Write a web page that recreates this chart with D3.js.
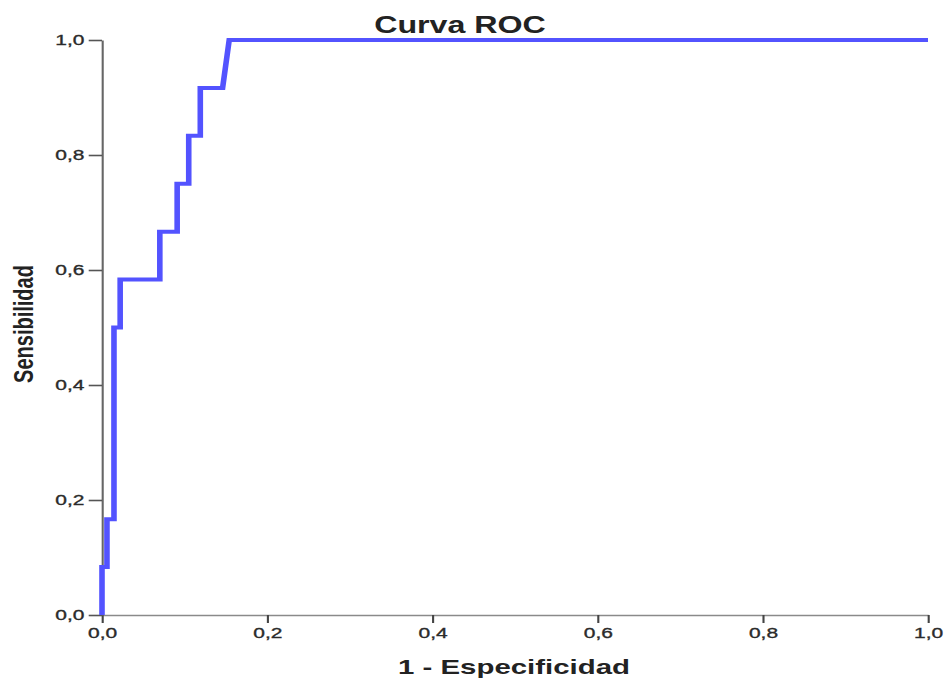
<!DOCTYPE html>
<html>
<head>
<meta charset="utf-8">
<script src="https://cdn.jsdelivr.net/npm/d3@7"></script>
<style>
  html, body { margin: 0; padding: 0; background: #fff; }
  svg { display: block; }
  text { font-family: "Liberation Sans", Arial, sans-serif; }
</style>
</head>
<body>
<script>
// ROC curve: false positive rate (1 - specificity) vs sensitivity
const fpr = [0, 0, 0.006, 0.006, 0.0145, 0.0145, 0.022, 0.022, 0.070, 0.070, 0.091, 0.091, 0.105, 0.105, 0.119, 0.119, 0.146, 0.154, 1.0];
const tpr = [0, 0.0833, 0.0833, 0.1667, 0.1667, 0.5, 0.5, 0.5833, 0.5833, 0.6667, 0.6667, 0.75, 0.75, 0.8333, 0.8333, 0.9167, 0.9167, 1.0, 1.0];
const xTicks = [0, 0.2, 0.4, 0.6, 0.8, 1.0];
const yTicks = [0, 0.2, 0.4, 0.6, 0.8, 1.0];
const title = "Curva ROC";
const xTitle = "1 - Especificidad";
const yTitle = "Sensibilidad";

const W = 945, H = 679;
// the whole chart is drawn horizontally widened
const SX = 1.4;
const fmt = v => d3.format(".1f")(v).replace(".", ",");

const svg = d3.select("body").append("svg")
  .attr("width", W).attr("height", H);

const root = svg.append("g").attr("transform", `scale(${SX},1)`);

const x = d3.scaleLinear().domain([0, 1]).range([102 / SX, 928 / SX]);
const y = d3.scaleLinear().domain([0, 1]).range([615, 40]);

// x axis
const gx = root.append("g")
  .attr("transform", `translate(0,${y(0)})`)
  .call(d3.axisBottom(x).tickValues(xTicks).tickFormat(fmt).tickSize(8).tickSizeOuter(0).tickPadding(4));
gx.select(".domain").attr("stroke", "#8a8a8a").attr("stroke-width", 1.5);
gx.selectAll(".tick line").attr("stroke", "#444").attr("stroke-width", 1.5);
gx.selectAll(".tick text").attr("fill", "#2b2b2b").attr("stroke", "#2b2b2b").attr("stroke-width", 0.35).style("font-size", "15px");

// y axis
const gy = root.append("g")
  .attr("transform", `translate(${x(0)},0)`)
  .call(d3.axisLeft(y).tickValues(yTicks).tickFormat(fmt).tickSize(9.5).tickSizeOuter(0).tickPadding(3));
gy.select(".domain").attr("stroke", "#666").attr("stroke-width", 1.5);
gy.selectAll(".tick line").attr("stroke", "#555").attr("stroke-width", 1.6);
gy.selectAll(".tick text").attr("fill", "#2b2b2b").attr("stroke", "#2b2b2b").attr("stroke-width", 0.35).style("font-size", "15px");

// curve
const pts = fpr.map((v, i) => [v, tpr[i]]);
root.append("path")
  .datum(pts)
  .attr("fill", "none")
  .attr("stroke", "#5353ff")
  .attr("stroke-width", 4)
  .attr("stroke-linejoin", "miter")
  .attr("d", d3.line().x(d => x(d[0])).y(d => y(d[1])));

// titles
root.append("text")
  .attr("x", 460 / SX).attr("y", 33)
  .attr("text-anchor", "middle")
  .attr("font-weight", "bold").style("font-size", "23px")
  .attr("fill", "#222")
  .text(title);

root.append("text")
  .attr("x", 514 / SX).attr("y", 674)
  .attr("text-anchor", "middle")
  .attr("font-weight", "bold").style("font-size", "21px")
  .attr("fill", "#222")
  .text(xTitle);

root.append("text")
  .attr("transform", `translate(${33 / SX},324) rotate(-90)`)
  .attr("text-anchor", "middle")
  .attr("font-weight", "bold").style("font-size", "20px")
  .attr("fill", "#222")
  .text(yTitle);
</script>
</body>
</html>
